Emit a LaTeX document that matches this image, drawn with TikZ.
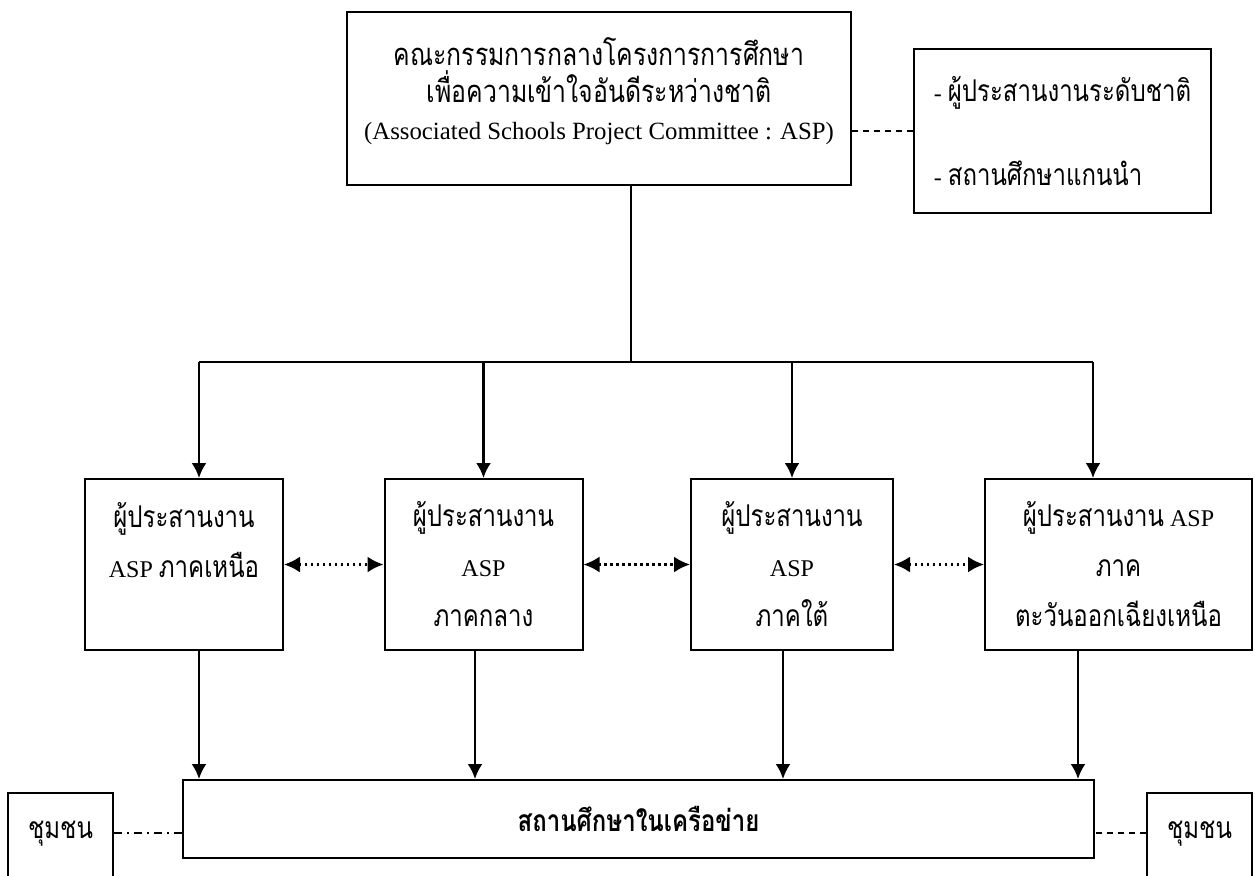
\documentclass[tikz,border=0pt]{standalone}
\usepackage{fontspec}
\setmainfont{Liberation Serif}
\newfontfamily\thai[Script=Thai, Scale=1.25, FakeStretch=0.8]{Loma}
\usetikzlibrary{arrows.meta}
\usetikzlibrary{positioning}
\tikzstyle{every node}+=[inner sep=0pt]
\tikzstyle{block} = [rectangle, draw, line width=1pt, align=center, text centered]
\tikzstyle{region} = [block, minimum height=85.5pt, minimum width=99pt, node distance=150pt]
\tikzstyle{line} = [draw, line width=1.2pt]
\tikzstyle{arrow} = [line, -{Latex[length=7.5pt, width=7.5pt]}]
\tikzstyle{link} = [line, dash pattern=on 1.2pt off 1.8pt, {Latex[length=8pt, width=8pt]}-{Latex[length=8pt, width=8pt]}]
\tikzstyle{tie} = [draw, line width=1pt, dash pattern=on 3pt off 2.5pt]
\tikzstyle{tiedot} = [draw, line width=1pt, dash pattern=on 4pt off 2.5pt on 1pt off 2.5pt]

\begin{document}
\begin{tikzpicture}[x=0.5pt, y=-0.5pt, font=\fontsize{12}{25}\selectfont]
            \useasboundingbox (0,0) rectangle (1255,875);
            % Place nodes
            \node [block, minimum width=252pt, minimum height=86.5pt, font=\fontsize{12.4}{18.5}\selectfont] (comm) at (599,98.5)
              {{\thai คณะกรรมการกลางโครงการการศึกษา}\\{\thai เพื่อความเข้าใจอันดีระหว่างชาติ}\\(Associated Schools Project Committee : ASP)\\[-9pt]\mbox{}};
            \node [block, align=left, minimum width=148.5pt, minimum height=82pt] (members) at (1062.5,131)
              {- {\thai ผู้ประสานงานระดับชาติ}\\[17pt]- {\thai สถานศึกษาแกนนำ}};
            \coordinate (hub) at (631,362);
            \node [region] (r1) at (184,564.5) {{\thai ผู้ประสานงาน}\\ASP {\thai ภาคเหนือ}\\ \mbox{}};
            \node [region, right of=r1, node distance=149.75pt] (r2) {{\thai ผู้ประสานงาน}\\ASP\\{\thai ภาคกลาง}};
            \node [region, right of=r2, node distance=154.25pt, minimum width=101pt] (r3) {{\thai ผู้ประสานงาน}\\ASP\\{\thai ภาคใต้}};
            \node [region, right of=r3, node distance=163.25pt, minimum width=133.5pt] (r4) {{\thai ผู้ประสานงาน} ASP\\{\thai ภาค}\\{\thai ตะวันออกเฉียงเหนือ}};
            \node [block, minimum width=455.5pt, minimum height=39pt, font=\fontsize{12}{14}\selectfont\bfseries] (net) at (638.5,819) {\thai สถานศึกษาในเครือข่าย};
            \node [block, anchor=north, minimum width=52.5pt, text height=22.5pt, text depth=25pt] (comL) at (60.5,792) {\thai ชุมชน};
            \node [block, anchor=north, minimum width=52.5pt, text height=22.5pt, text depth=25pt] (comR) at (1199.5,792) {\thai ชุมชน};
            % Draw edges
            \path [tie] (members.west) -- (members.west -| comm.east);
            \path [line] (hub |- comm.south) -- (hub);
            \path [line] ([xshift=7.5pt]r1.north |- hub) -- ([xshift=-12.75pt]r4.north |- hub);
            \path [arrow] ([xshift=7.5pt]r1.north |- hub) -- ([xshift=7.5pt]r1.north);
            \path [arrow] (r2.north |- hub) -- (r2.north);
            \path [arrow] (r3.north |- hub) -- (r3.north);
            \path [arrow] ([xshift=-12.75pt]r4.north |- hub) -- ([xshift=-12.75pt]r4.north);
            \path [link] (r1) -- (r2);
            \path [link] (r2) -- (r3);
            \path [link] (r3) -- (r4);
            \path [arrow] ([xshift=7.5pt]r1.south) -- ([xshift=7.5pt]r1.south |- net.north);
            \path [arrow] ([xshift=-4.25pt]r2.south) -- ([xshift=-4.25pt]r2.south |- net.north);
            \path [arrow] ([xshift=-4.5pt]r3.south) -- ([xshift=-4.5pt]r3.south |- net.north);
            \path [arrow] ([xshift=-20.25pt]r4.south) -- ([xshift=-20.25pt]r4.south |- net.north);
            \path [tiedot] (comL.mid east) -- (comL.mid east -| net.west);
            \path [tie] (comR.mid west) -- (comR.mid west -| net.east);
          \end{tikzpicture}
\end{document}
